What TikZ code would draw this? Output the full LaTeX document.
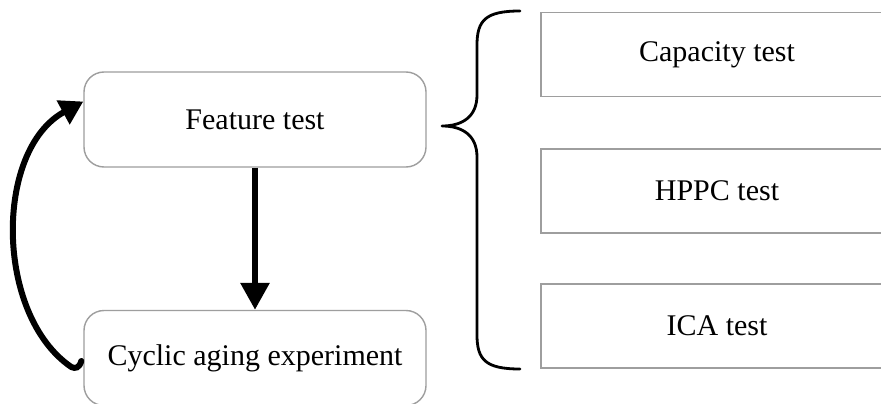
\documentclass[tikz,border=0pt]{standalone}
\usepackage{fontspec}
\setmainfont{Liberation Serif}
\usetikzlibrary{arrows.meta,calc}
\tikzset{
  stage/.style={draw=black!38, line width=1.4pt, rounded corners=20pt,
    minimum width=342pt, minimum height=95pt, inner sep=0pt,
    font=\fontsize{30}{36}\selectfont},
  testbox/.style={draw=black!38, line width=1.4pt,
    minimum width=352pt, minimum height=84pt, inner sep=0pt,
    font=\fontsize{30}{36}\selectfont},
  flow/.style={line width=6pt, -{Triangle[width=28pt,length=27pt]}},
  loop/.style={line width=6pt, line cap=round, -{Triangle[width=26pt,length=23pt]}},
  brace/.style={line width=2.8pt, line cap=round, line join=round}
}
\begin{document}
\begin{tikzpicture}[x=1pt,y=-1pt]
  \useasboundingbox (0,0) rectangle (881,404);
  \clip (0,0) rectangle (881,404);
  \fill[white] (0,0) rectangle (881,404);

  % the two stages of the procedure
  \node[stage] (feat) at (255,119.5) {Feature test};
  \node[stage] (cyc) at (255,358) {Cyclic aging experiment};

  % the three tests that make up the feature test
  \node[testbox] (cap)  at (717,54.5) {Capacity test};
  \node[testbox] (hppc) at (717,191) {HPPC test};
  \node[testbox] (ica)  at (717,326) {ICA test};

  % feature test -> aging
  \draw[flow] (feat.south) -- (cyc.north);

  % aging -> back to feature test
  \draw[loop] ($(cyc.west)+(-2,3)$) .. controls ($(cyc.west)+(-4,10)$) and ($(cyc.west)+(-8,11)$) .. ($(cyc.west)+(-12,9)$)
     .. controls (-5,315) and (-6,150) .. ($(feat.west)+(0,-18)$);

  % curly brace grouping the tests
  \draw[brace] (520,11) .. controls (486,11) and (477,20) .. (477,45) -- (477,95)
     .. controls (477,117) and (462,126) .. (442,126)
     .. controls (462,126) and (477,135) .. (477,157) -- (477,335)
     .. controls (477,360) and (486,369) .. (520,369);
\end{tikzpicture}
\end{document}
